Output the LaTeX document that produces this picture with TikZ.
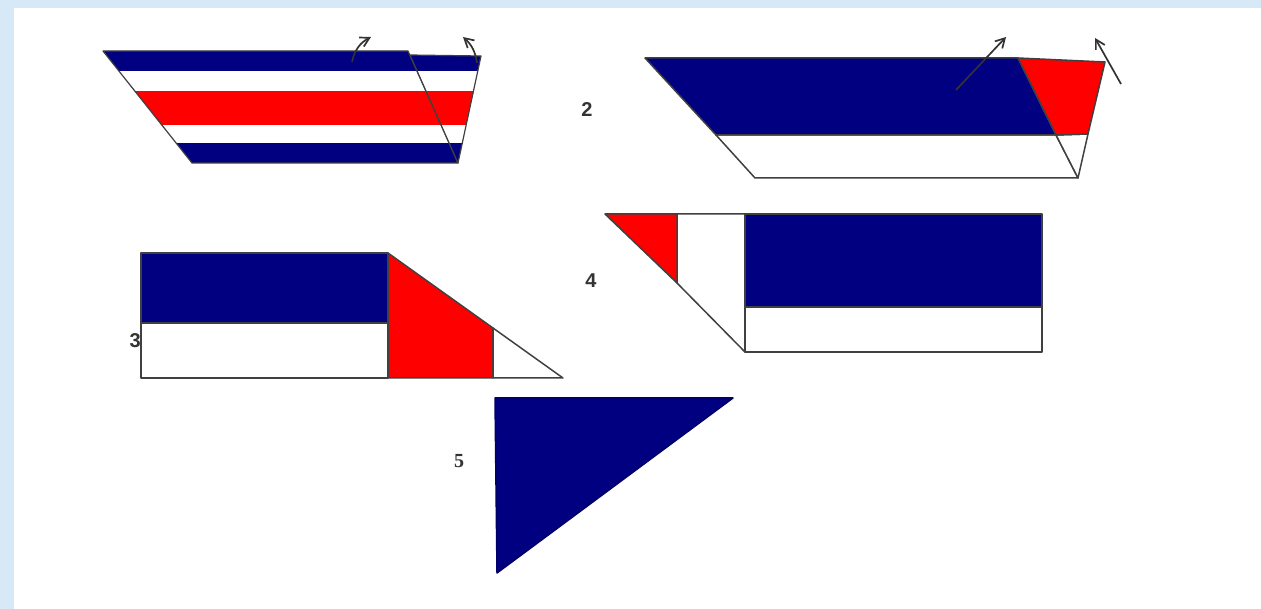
\documentclass[tikz,border=0pt]{standalone}
\usepackage{fontspec}
\setmainfont{Liberation Sans}
\newfontfamily\serifnum{Liberation Serif}
\usepackage{tikz}
\usetikzlibrary{arrows.meta}
\usepackage{xcolor}
\definecolor{navy}{HTML}{000080}
\definecolor{flagred}{HTML}{FF0000}
\definecolor{framebg}{HTML}{D7E8F7}
\tikzset{
  piece/.style={draw=black!75, line width=1.5pt, line join=round},
  bluepart/.style={piece, fill=navy},
  redpart/.style={piece, fill=flagred},
  whitepart/.style={piece, fill=white},
  turn/.style={-{Straight Barb[length=3.2mm, width=3.6mm]}, line width=1.7pt, draw=black!80},
  num/.style={font=\fontsize{20}{20}\selectfont\bfseries, text=black!80, inner sep=0pt}
}

\begin{document}
\begin{tikzpicture}[x=1pt, y=-1pt]
  \useasboundingbox (0,0) rectangle (1261,609);
  \fill[framebg] (0,0) rectangle (1261,609);
  \fill[white] (14,8) rectangle (1261,609);

  % piece 1: striped parallelogram with its cut corner
  \coordinate (p1a) at (103,51);
  \coordinate (p1b) at (408,51);
  \coordinate (p1c) at (458,163);
  \coordinate (p1d) at (192,163);
  \coordinate (p1e) at (410,55);
  \coordinate (p1f) at (481,56);
  \foreach \cut in {{(p1a) -- (p1b) -- (p1c) -- (p1d) -- cycle},
                    {(p1e) -- (p1f) -- (p1c) -- cycle}} {
    \begin{scope}
      \clip \cut;
      \fill[navy] (90,40) rectangle (500,71);
      \fill[white] (90,71) rectangle (500,91);
      \fill[flagred] (90,91) rectangle (500,125);
      \fill[white] (90,125) rectangle (500,143);
      \fill[navy] (90,143) rectangle (500,170);
    \end{scope}
    \draw[draw=black!75, line width=1.2pt, line join=round] \cut;
  }
  \coordinate (t1s) at (352,62);
  \coordinate (t1e) at (371,37);
  \coordinate (t2s) at (477,63);
  \coordinate (t2e) at (463,37);
  \draw[turn] (t1s) to[bend left=25] (t1e);
  \draw[turn] (t2s) to[bend right=20] (t2e);

  % piece 2
  \node[num] (n2) at (587,110) {2};
  \coordinate (p2a) at (645,58);
  \coordinate (p2b) at (1018,58);
  \coordinate (p2c) at (1105,62);
  \coordinate (p2d) at (1078,178);
  \coordinate (p2e) at (755,178);
  \coordinate (p2f) at (716,135);
  \coordinate (p2g) at (1056,135);
  \coordinate (p2h) at (1088,134);
  \draw[whitepart] (p2f) -- (p2g) -- (p2d) -- (p2e) -- cycle;
  \draw[whitepart] (p2g) -- (p2h) -- (p2d) -- cycle;
  \draw[bluepart] (p2a) -- (p2b) -- (p2g) -- (p2f) -- cycle;
  \draw[redpart] (p2b) -- (p2c) -- (p2h) -- (p2g) -- cycle;
  \coordinate (t3s) at (956,90);
  \coordinate (t3e) at (1006,37);
  \coordinate (t4s) at (1121,84);
  \coordinate (t4e) at (1095,38);
  \draw[turn] (t3s) -- (t3e);
  \draw[turn] (t4s) -- (t4e);

  % piece 3
  \node[num, anchor=east] (n3) at (141,341) {3};
  \draw[bluepart] (141,253) rectangle (388,323);
  \draw[whitepart] (141,323) rectangle (388,378);
  \draw[redpart] (388,253) -- (493,328) -- (493,378) -- (388,378) -- cycle;
  \draw[whitepart] (493,328) -- (563,378) -- (493,378) -- cycle;

  % piece 4
  \node[num] (n4) at (591,281) {4};
  \draw[whitepart] (677,214) -- (745,214) -- (745,352) -- (677,283) -- cycle;
  \draw[redpart] (605,214) -- (677,214) -- (677,283) -- cycle;
  \draw[bluepart] (745,214) rectangle (1042,307);
  \draw[whitepart] (745,307) rectangle (1042,352);

  % piece 5
  \node[num, font=\fontsize{20}{20}\selectfont\bfseries\serifnum] (n5) at (459,461) {5};
  \draw[bluepart, draw=navy!80!black] (495,398) -- (733,398) -- (497,573) -- cycle;
\end{tikzpicture}
\end{document}
